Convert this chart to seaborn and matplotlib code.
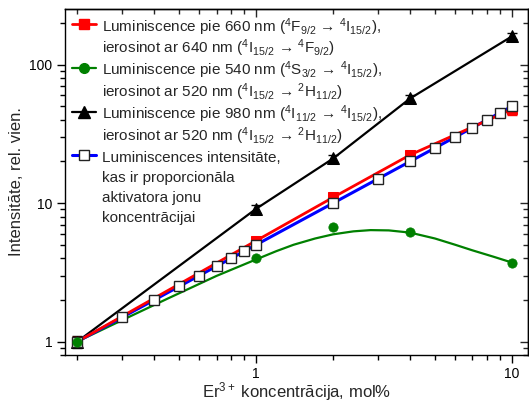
import matplotlib
matplotlib.use("Agg")
import matplotlib.pyplot as plt
from matplotlib.lines import Line2D
from matplotlib.ticker import LogLocator, NullFormatter, FixedLocator, FixedFormatter
import numpy as np
import pandas as pd
import seaborn as sns

# Er3+ concentration (mol%) for the measured samples
conc = [0.2, 1, 2, 4, 10]

# 660 nm luminescence, excited at 640 nm
red_y = [1.0, 5.35, 11.0, 22.3, 47.5]
red_err = [0.08, 0.3, 0.5, 1.2, 4.5]

# 540 nm luminescence, excited at 520 nm (measured points)
green_y = [1.0, 4.0, 6.75, 6.2, 3.72]

# smooth fitted curve through the 540 nm data
green_fit_x = [0.2, 0.3, 0.45, 0.7, 1.0, 1.2, 1.4, 1.7, 2.0, 2.4, 2.8, 3.3, 4.0,
               5.0, 6.0, 7.0, 8.5, 10]
green_fit_y = [1.0, 1.43, 2.04, 2.98, 3.92, 4.5, 5.0, 5.55, 5.95, 6.25, 6.38,
               6.35, 6.12, 5.55, 5.0, 4.56, 4.09, 3.72]

# 980 nm luminescence, excited at 520 nm
black_y = [1.0, 9.1, 21.0, 57.0, 160.0]
black_err = [0.1, 0.6, 1.2, 3.0, 8.0]

# intensity proportional to the activator ion concentration
prop_x = [0.2, 0.3, 0.4, 0.5, 0.6, 0.7, 0.8, 0.9, 1, 2, 3, 4, 5, 6, 7, 8, 9, 10]
prop_y = [1.0, 1.5, 2.0, 2.5, 3.0, 3.5, 4.0, 4.5, 5.0, 10, 15, 20, 25, 30, 35,
          40, 45, 50]

x_ticks = [1, 10]
x_ticklabels = ["1", "10"]
y_ticks = [1, 10, 100]
y_ticklabels = ["1", "10", "100"]

legend_lines = [
    "Luminiscence pie 660 nm ($^{4}$F$_{9/2}$ → $^{4}$I$_{15/2}$),",
    "ierosinot ar 640 nm ($^{4}$I$_{15/2}$ → $^{4}$F$_{9/2}$)",
    "Luminiscence pie 540 nm ($^{4}$S$_{3/2}$ → $^{4}$I$_{15/2}$),",
    "ierosinot ar 520 nm ($^{4}$I$_{15/2}$ → $^{2}$H$_{11/2}$)",
    "Luminiscence pie 980 nm ($^{4}$I$_{11/2}$ → $^{4}$I$_{15/2}$),",
    "ierosinot ar 520 nm ($^{4}$I$_{15/2}$ → $^{2}$H$_{11/2}$)",
    "Luminiscences intensitāte,",
    "kas ir proporcionāla",
    "aktivatora jonu",
    "koncentrācijai",
]

RED = "#ff0000"
GREEN = "#008000"
BLACK = "#000000"
BLUE = "#0000ff"

sns.set_theme(style="ticks")
plt.rcParams["font.family"] = ["Liberation Sans", "DejaVu Sans"]
plt.rcParams["mathtext.fontset"] = "custom"
plt.rcParams["mathtext.rm"] = "Liberation Sans"
plt.rcParams["mathtext.it"] = "Liberation Sans:italic"
plt.rcParams["mathtext.bf"] = "Liberation Sans:bold"

fig = plt.figure(figsize=(5.29, 4.12), dpi=100)
ax = fig.add_axes([65 / 529, 57 / 412, 463 / 529, 346 / 412])

df_main = pd.DataFrame({"x": conc, "red": red_y, "green": green_y, "black": black_y})
df_fit = pd.DataFrame({"x": green_fit_x, "y": green_fit_y})
df_prop = pd.DataFrame({"x": prop_x, "y": prop_y})

# green: fitted curve plus measured points
sns.lineplot(data=df_fit, x="x", y="y", ax=ax, color=GREEN, lw=1.6,
             errorbar=None, zorder=2)
sns.scatterplot(data=df_main, x="x", y="green", ax=ax, color=GREEN, s=45,
                marker="o", edgecolor=GREEN, linewidth=0.5, zorder=4)

# black: 980 nm
ax.errorbar(conc, black_y, yerr=black_err, fmt="none", ecolor=BLACK,
            elinewidth=1, capsize=3.5, capthick=1, zorder=2.5)
sns.lineplot(data=df_main, x="x", y="black", ax=ax, color=BLACK, lw=1.6,
             marker="^", markersize=8, markeredgecolor=BLACK,
             errorbar=None, zorder=3)

# red: 660 nm
ax.errorbar(conc, red_y, yerr=red_err, fmt="none", ecolor=RED,
            elinewidth=1, capsize=3.5, capthick=1, zorder=2.6)
sns.lineplot(data=df_main, x="x", y="red", ax=ax, color=RED, lw=2.0,
             marker="s", markersize=6.5, markeredgecolor=RED,
             errorbar=None, zorder=3.2)

# blue: proportional reference
sns.lineplot(data=df_prop, x="x", y="y", ax=ax, color=BLUE, lw=2.2,
             errorbar=None, zorder=3.1)
ax.plot(prop_x, prop_y, ls="none", marker="s", markersize=7,
        markerfacecolor="white", markeredgecolor="#222222",
        markeredgewidth=1.0, zorder=3.4)

ax.set_xscale("log")
ax.set_yscale("log")
ax.set_xlim(0.179, 11.55)
ax.set_ylim(0.80, 252)

ax.xaxis.set_major_locator(FixedLocator(x_ticks))
ax.xaxis.set_major_formatter(FixedFormatter(x_ticklabels))
ax.xaxis.set_minor_locator(LogLocator(base=10, subs=np.arange(2, 10)))
ax.xaxis.set_minor_formatter(NullFormatter())
ax.yaxis.set_major_locator(FixedLocator(y_ticks))
ax.yaxis.set_major_formatter(FixedFormatter(y_ticklabels))
ax.yaxis.set_minor_locator(LogLocator(base=10, subs=np.arange(2, 10)))
ax.yaxis.set_minor_formatter(NullFormatter())

ax.tick_params(which="both", direction="out", top=False, right=False,
               width=1, color="black", labelsize=10, labelcolor="black")
ax.tick_params(which="major", length=6, pad=3)
ax.tick_params(which="minor", length=3.5)

# mirrored inward ticks on the top and right edges
ax_top = ax.secondary_xaxis("top")
ax_top.set_xscale("log")
ax_top.xaxis.set_major_locator(FixedLocator(x_ticks))
ax_top.xaxis.set_minor_locator(LogLocator(base=10, subs=np.arange(2, 10)))
ax_top.tick_params(which="both", direction="in", labeltop=False, width=1)
ax_top.tick_params(which="major", length=6)
ax_top.tick_params(which="minor", length=3.5)
ax_top.xaxis.set_major_formatter(NullFormatter())
ax_top.xaxis.set_minor_formatter(NullFormatter())
ax_right = ax.secondary_yaxis("right")
ax_right.set_yscale("log")
ax_right.yaxis.set_major_locator(FixedLocator(y_ticks))
ax_right.yaxis.set_minor_locator(LogLocator(base=10, subs=np.arange(2, 10)))
ax_right.tick_params(which="both", direction="in", labelright=False, width=1)
ax_right.tick_params(which="major", length=6)
ax_right.tick_params(which="minor", length=3.5)
ax_right.yaxis.set_major_formatter(NullFormatter())
ax_right.yaxis.set_minor_formatter(NullFormatter())
for a in (ax, ax_top, ax_right):
    for sp in a.spines.values():
        sp.set_linewidth(1)
        sp.set_color("black")

ax.set_xlabel("Er$^{3+}$ koncentrācija, mol%", fontsize=12, labelpad=-1)
ax.set_ylabel("Intensitāte, rel. vien.", fontsize=12, labelpad=4)

blank = Line2D([], [], color="none")
handles = [
    Line2D([], [], color=RED, lw=2.0, marker="s", markersize=6.5),
    blank,
    Line2D([], [], color=GREEN, lw=1.6, marker="o", markersize=7),
    blank,
    Line2D([], [], color=BLACK, lw=1.6, marker="^", markersize=8),
    blank,
    Line2D([], [], color=BLUE, lw=2.2, marker="s", markersize=7,
           markerfacecolor="white", markeredgecolor="#222222"),
    blank, blank, blank,
]
ax.legend(handles, legend_lines, loc="upper left",
          bbox_to_anchor=(0.015, 0.98), frameon=False, fontsize=11,
          borderpad=0, borderaxespad=0, handlelength=1.6, handletextpad=0.35,
          handleheight=1.6, labelspacing=0.02)

fig.savefig("out.png", dpi=100)
